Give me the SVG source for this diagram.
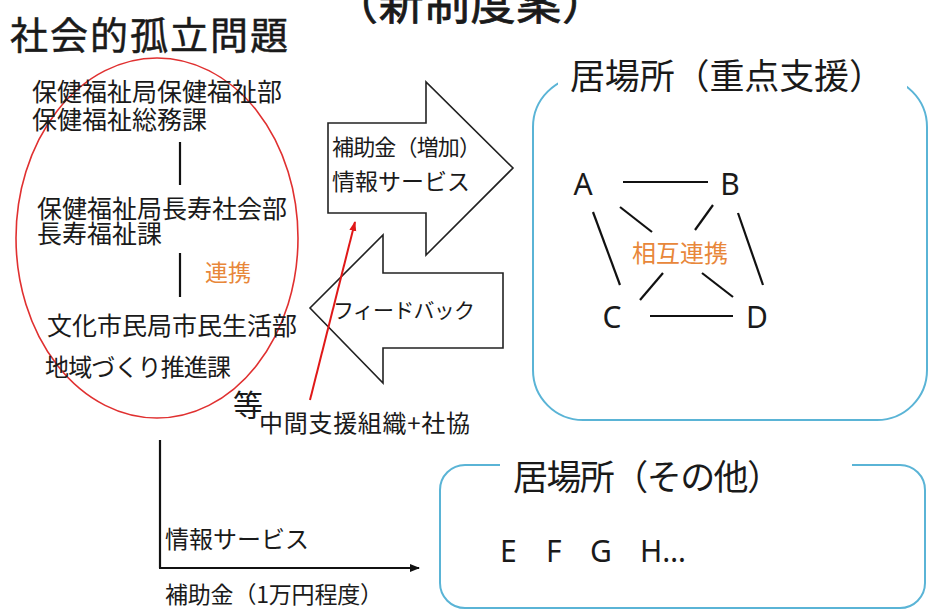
<svg xmlns="http://www.w3.org/2000/svg" width="929" height="610" viewBox="0 0 929 610">
<style>
.jp{font-family:"Noto Sans CJK JP","Noto Sans",sans-serif;fill:#1a1a1a}
.lat{font-family:"Noto Sans","Liberation Sans",sans-serif;fill:#1a1a1a}
.or{fill:#E8873A}
.ln{stroke:#111;stroke-width:2.2;fill:none}
.blue{fill:none;stroke:#5AB4D6;stroke-width:2}
.blk{fill:#fff;stroke:#222;stroke-width:1.6;stroke-linejoin:miter}
</style>
<defs>
<marker id="ah" markerWidth="10" markerHeight="10" refX="9" refY="5" orient="auto" markerUnits="userSpaceOnUse">
<path d="M0,1 L10,5 L0,9 Z" fill="#111"/>
</marker>
<marker id="ahr" markerWidth="10" markerHeight="10" refX="9" refY="5" orient="auto" markerUnits="userSpaceOnUse">
<path d="M0,1.5 L10,5 L0,8.5 Z" fill="#E01818"/>
</marker>
</defs>
<rect width="929" height="610" fill="#fff"/>

<g id="title">
<text class="jp" x="333" y="20" font-size="45" textLength="274" lengthAdjust="spacing" stroke="#1a1a1a" stroke-width="0.8">（新制度案）</text>
<text class="jp" x="10" y="49" font-size="38" textLength="278" lengthAdjust="spacing" stroke="#1a1a1a" stroke-width="0.5">社会的孤立問題</text>
</g>

<g id="city-hall">
<ellipse cx="157" cy="238" rx="141" ry="180" fill="none" stroke="#E03030" stroke-width="1.6"/>
<text class="jp" x="32" y="101" font-size="25">保健福祉局保健福祉部</text>
<text class="jp" x="32" y="129" font-size="25">保健福祉総務課</text>
<line class="ln" x1="180" y1="142" x2="180" y2="185" stroke-width="2.5"/>
<text class="jp" x="37" y="218" font-size="25">保健福祉局長寿社会部</text>
<text class="jp" x="37" y="243" font-size="25">長寿福祉課</text>
<line class="ln" x1="180" y1="253" x2="180" y2="297" stroke-width="2.5"/>
<text class="jp or" x="205" y="281" font-size="23">連携</text>
<text class="jp" x="47" y="335" font-size="25">文化市民局市民生活部</text>
<text class="jp" x="45" y="376" font-size="24" textLength="186" lengthAdjust="spacing">地域づくり推進課</text>
</g>

<g id="support-arrow">
<polygon class="blk" points="328,123 426,123 426,82 513,168 426,255 426,213 328,213"/>
<text class="jp" x="332" y="155" font-size="22" textLength="149" lengthAdjust="spacing">補助金（増加）</text>
<text class="jp" x="332" y="190" font-size="23">情報サービス</text>
</g>

<g id="feedback-arrow">
<polygon class="blk" points="503,273 383,273 383,235 310,308 383,383 383,348 503,348"/>
<text class="jp" x="333" y="318" font-size="21" textLength="142" lengthAdjust="spacing">フィードバック</text>
</g>

<g id="intermediary">
<text class="jp" x="233" y="416" font-size="30">等</text>
<text class="jp" x="259" y="432" font-size="24" textLength="211" lengthAdjust="spacing">中間支援組織+社協</text>
</g>

<g id="connectors">
<line x1="310" y1="400" x2="355" y2="222" stroke="#E01818" stroke-width="2" marker-end="url(#ahr)"/>
<line class="ln" x1="160" y1="440" x2="160" y2="568" stroke-width="2.2"/>
<line class="ln" x1="159" y1="568" x2="419" y2="568" stroke-width="2.2" marker-end="url(#ah)"/>
</g>

<g id="ibasho-main">
<rect class="blue" x="533" y="77" width="394" height="343" rx="50"/>
<rect x="558" y="58" width="349" height="40" fill="#fff"/>
<text class="jp" x="570" y="89" font-size="35" textLength="314" lengthAdjust="spacing">居場所（重点支援）</text>
<g id="node-A"><text class="lat" x="583" y="195" font-size="30" text-anchor="middle">A</text></g>
<g id="node-B"><text class="lat" x="730" y="195" font-size="30" text-anchor="middle">B</text></g>
<g id="node-C"><text class="lat" x="612" y="328" font-size="30" text-anchor="middle">C</text></g>
<g id="node-D"><text class="lat" x="757" y="328" font-size="30" text-anchor="middle">D</text></g>
<g id="mutual-links">
<line class="ln" x1="623" y1="182" x2="708" y2="182"/>
<line class="ln" x1="650" y1="316" x2="733" y2="316"/>
<line class="ln" x1="593" y1="212" x2="620" y2="285"/>
<line class="ln" x1="738" y1="213" x2="763" y2="285"/>
<line class="ln" x1="620" y1="207" x2="652" y2="232"/>
<line class="ln" x1="702" y1="273" x2="733" y2="297"/>
<line class="ln" x1="713" y1="205" x2="695" y2="230"/>
<line class="ln" x1="663" y1="273" x2="640" y2="300"/>
</g>
<text class="jp or" x="680" y="262" font-size="24" text-anchor="middle">相互連携</text>
</g>

<g id="ibasho-other">
<rect class="blue" x="440" y="465" width="485" height="143" rx="25"/>
<rect x="500" y="450" width="352" height="30" fill="#fff"/>
<text class="jp" x="513" y="490" font-size="35" textLength="269" lengthAdjust="spacing">居場所（その他）</text>
<text class="lat" font-size="30" y="562"><tspan x="500">E</tspan><tspan x="546">F</tspan><tspan x="590">G</tspan><tspan x="640">H…</tspan></text>
</g>

<g id="axis-labels">
<text class="jp" x="165" y="548" font-size="24">情報サービス</text>
<text class="jp" x="165" y="603" font-size="23" textLength="218" lengthAdjust="spacing">補助金（1万円程度）</text>
</g>
</svg>
